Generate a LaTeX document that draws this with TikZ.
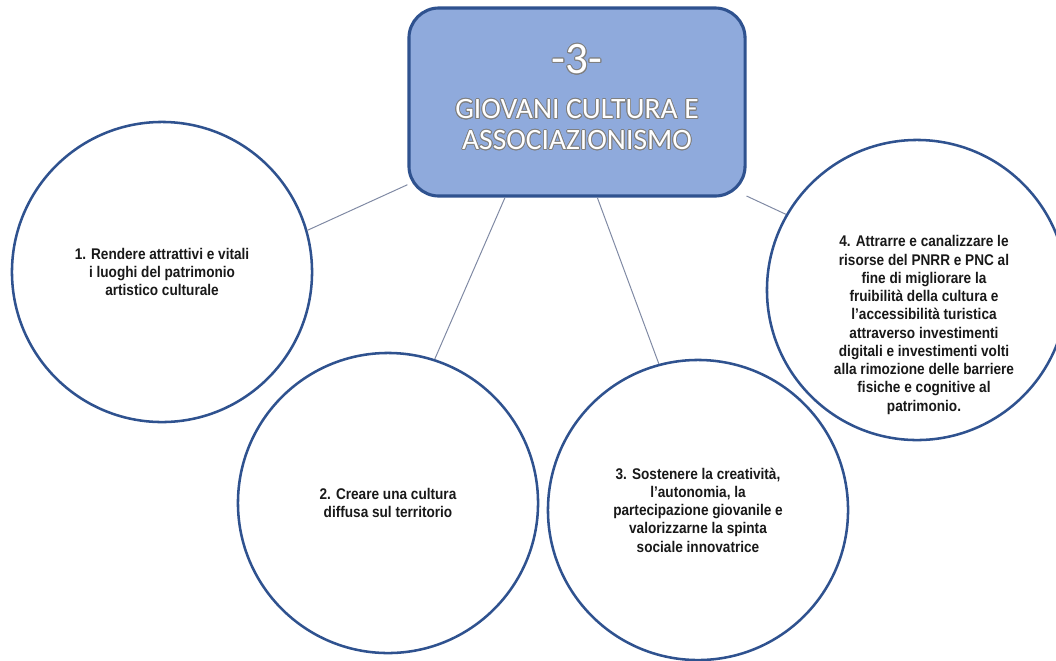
\documentclass[tikz,border=0pt]{standalone}
\usepackage{fontspec}
\setmainfont{Liberation Sans}
\newfontfamily\themefont{Carlito}
\newfontfamily\goalfont[FakeStretch=0.88]{Liberation Sans}
\usepackage{contour}
\contourlength{0.6pt}
\usetikzlibrary{positioning}
\definecolor{themeblue}{HTML}{8FAADC}
\definecolor{edgeblue}{HTML}{2F528F}
\definecolor{linkgray}{HTML}{7F89A3}

\tikzset{
    goaltext/.style={align=center, text=black!90, font=\goalfont\bfseries\fontsize{11}{13}\selectfont},
    goal/.style={goaltext, draw=edgeblue, line width=1.8pt, circle, minimum size=7.5cm, fill=white},
    link/.style={draw=linkgray, line width=0.7pt}
}

\begin{document}
\begin{tikzpicture}[x=0.025cm, y=-0.025cm]
        \useasboundingbox (0,0) rectangle (1056,660);
        % Central theme
        \node[draw=edgeblue, line width=2.2pt, fill=themeblue, rounded corners=0.75cm, minimum width=8.4cm, minimum height=4.7cm, align=center, text depth=7pt, text=white, font=\themefont\fontsize{21}{22}\selectfont] (theme) at (577,102) {{\fontsize{32}{34}\selectfont\contour{gray}{-3-}}\\[10pt]\contour{gray}{GIOVANI CULTURA E}\\\contour{gray}{ASSOCIAZIONISMO}};

        % Goals
        \node[goal] (g1) at (162,272) {1. Rendere attrattivi e vitali\\i luoghi del patrimonio\\artistico culturale};
        \node[goal] (g2) at (388,503) {2. Creare una cultura\\diffusa sul territorio};
        \node[goal] (g3) at (698,510) {3. Sostenere la creatività,\\l’autonomia, la\\partecipazione giovanile e\\valorizzarne la spinta\\sociale innovatrice};
        \node[goal] (g4) at (917,290) {};
        \node[goaltext] (g4text) at (924,325) {4. Attrarre e canalizzare le\\risorse del PNRR e PNC al\\fine di migliorare la\\fruibilità della cultura e\\l’accessibilità turistica\\attraverso investimenti\\digitali e investimenti volti\\alla rimozione delle barriere\\fisiche e cognitive al\\patrimonio.};

        \draw[link] (theme.206) -- (g1.16);
        \draw[link] (theme.233) -- (g2.72);
        \draw[link] (theme.282) -- (g3.105);
        \draw[link] (theme.331) -- (g4.150);
    \end{tikzpicture}
\end{document}
